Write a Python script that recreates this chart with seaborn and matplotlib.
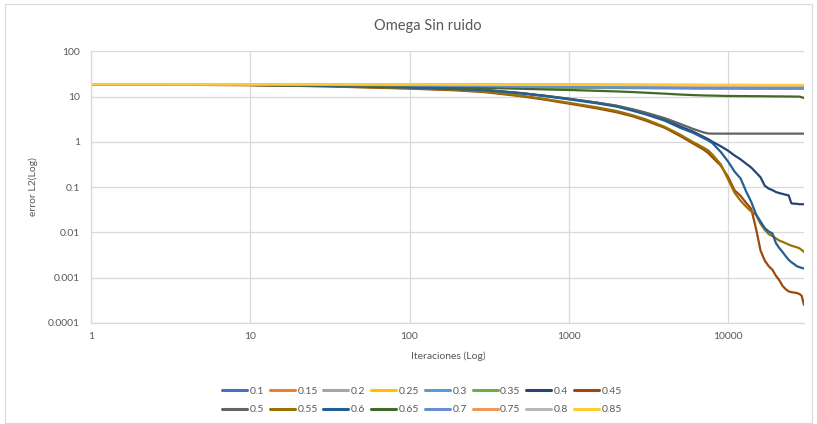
import matplotlib
matplotlib.use("Agg")
import matplotlib.pyplot as plt
import pandas as pd
import seaborn as sns
from matplotlib.patches import Rectangle
from matplotlib.ticker import NullLocator

# Iteration counts at which the L2 error was sampled
iterations = [1, 10, 30, 100, 200, 300, 500, 700, 1000, 1500, 2000, 2500, 3000,
              4000, 5000, 6000, 7000, 7500, 8000, 9000,
              10000, 11000, 12000, 13000, 14000, 15000, 16000, 17000, 18000, 19000,
              20000, 21000, 22000, 23000, 24000, 25000, 26000, 27000, 28000, 29000,
              30000]

omega_labels = ["0.1", "0.15", "0.2", "0.25", "0.3", "0.35", "0.4", "0.45",
                "0.5", "0.55", "0.6", "0.65", "0.7", "0.75", "0.8", "0.85"]

line_colors = ["#4472C4", "#ED7D31", "#A5A5A5", "#FFC000", "#5B9BD5", "#70AD47",
               "#264478", "#9E480E", "#636363", "#997300", "#255E91", "#43682B",
               "#698ED0", "#F1975A", "#B7B7B7", "#FFCD33"]

# L2 error per omega value
err_0_10 = [18.6, 18.5, 18.3, 18.0, 17.7, 17.5, 17.2, 17.0, 16.9, 16.7, 16.5, 16.3, 16.2,
            16.0, 15.9, 15.8, 15.7, 15.7, 15.6, 15.6,
            15.5, 15.5, 15.5, 15.4, 15.4, 15.4, 15.4, 15.4, 15.3, 15.3, 15.3,
            15.3, 15.3, 15.3, 15.3, 15.3, 15.3, 15.3, 15.3, 15.3, 15.3]
err_0_15 = [18.7, 18.6, 18.6, 18.5, 18.45, 18.4, 18.3, 18.25, 18.2, 18.15, 18.1, 18.05, 18.0,
            18.0, 17.9, 17.9, 17.9, 17.9, 17.8, 17.8,
            17.8, 17.8, 17.8, 17.8, 17.8, 17.8, 17.8, 17.7, 17.7, 17.7, 17.7,
            17.7, 17.7, 17.7, 17.7, 17.7, 17.7, 17.7, 17.7, 17.7, 17.7]
err_0_20 = [18.7, 18.6, 18.5, 18.4, 18.35, 18.3, 18.2, 18.15, 18.1, 18.05, 18.0, 17.95, 17.9,
            17.9, 17.8, 17.8, 17.8, 17.7, 17.7, 17.7,
            17.7, 17.7, 17.7, 17.6, 17.6, 17.6, 17.6, 17.6, 17.6, 17.6, 17.6,
            17.6, 17.6, 17.6, 17.6, 17.6, 17.6, 17.6, 17.6, 17.6, 17.6]
err_0_25 = [18.7, 18.7, 18.6, 18.6, 18.55, 18.5, 18.45, 18.4, 18.4, 18.35, 18.3, 18.3, 18.3,
            18.2, 18.2, 18.2, 18.1, 18.1, 18.1, 18.1,
            18.1, 18.1, 18.1, 18.1, 18.0, 18.0, 18.0, 18.0, 18.0, 18.0, 18.0,
            18.0, 18.0, 18.0, 18.0, 18.0, 18.0, 18.0, 18.0, 18.0, 18.0]
err_0_30 = [18.6, 18.4, 18.1, 17.6, 17.2, 17.0, 16.7, 16.5, 16.3, 16.1, 15.9, 15.8, 15.7,
            15.6, 15.5, 15.4, 15.4, 15.4, 15.3, 15.3,
            15.3, 15.3, 15.3, 15.2, 15.2, 15.2, 15.2, 15.2, 15.2, 15.2, 15.2,
            15.2, 15.2, 15.2, 15.2, 15.2, 15.2, 15.2, 15.2, 15.2, 15.2]
err_0_35 = [18.6, 18.4, 18.0, 17.2, 16.6, 16.2, 15.9, 15.7, 15.6, 15.5, 15.4, 15.35, 15.3,
            15.2, 15.2, 15.1, 15.1, 15.1, 15.1, 15.1,
            15.1, 15.1, 15.1, 15.1, 15.1, 15.1, 15.1, 15.1, 15.1, 15.1, 15.1,
            15.1, 15.1, 15.1, 15.1, 15.1, 15.1, 15.1, 15.1, 15.1, 15.1]
err_0_40 = [18.6, 18.1, 17.4, 16.0, 14.8, 14.0, 12.0, 10.5, 9.0, 7.3, 6.2, 5.1, 4.3,
            3.1, 2.2, 1.7, 1.3, 1.15, 1.0, 0.8,
            0.64, 0.50, 0.41, 0.33, 0.27, 0.21, 0.165, 0.108, 0.093, 0.086, 0.078,
            0.074, 0.071, 0.068, 0.066, 0.044, 0.043, 0.043, 0.042, 0.042, 0.042]
err_0_45 = [18.5, 17.9, 16.8, 15.0, 13.7, 12.5, 10.2, 8.6, 7.0, 5.5, 4.5, 3.7, 3.0,
            2.05, 1.35, 0.93, 0.68, 0.57, 0.45, 0.30,
            0.17, 0.085, 0.064, 0.045, 0.033, 0.012, 0.0040, 0.0024, 0.0018, 0.0015,
            0.0011, 0.00088, 0.00066, 0.00056, 0.00050, 0.00048, 0.00047, 0.00046,
            0.00044, 0.00040, 0.00025]
err_0_50 = [18.6, 18.1, 17.3, 15.8, 14.7, 13.9, 11.9, 10.4, 8.9, 7.4, 6.3, 5.3, 4.5,
            3.35, 2.5, 1.95, 1.62, 1.53, 1.52, 1.52,
            1.52, 1.52, 1.52, 1.52, 1.52, 1.52, 1.52, 1.52, 1.52, 1.52, 1.52,
            1.52, 1.52, 1.52, 1.52, 1.52, 1.52, 1.52, 1.52, 1.52, 1.52]
err_0_55 = [18.5, 18.0, 17.0, 15.3, 14.0, 12.8, 10.5, 8.9, 7.3, 5.8, 4.8, 3.9, 3.2,
            2.15, 1.45, 1.0, 0.75, 0.65, 0.52, 0.32,
            0.15, 0.075, 0.05, 0.037, 0.029, 0.0245, 0.0155, 0.0115, 0.0092, 0.0083,
            0.0074, 0.0066, 0.0062, 0.0058, 0.0054, 0.0051, 0.0049, 0.0047, 0.0045,
            0.0041, 0.0037]
err_0_60 = [18.6, 18.1, 17.3, 15.8, 14.6, 13.8, 11.8, 10.3, 8.7, 7.1, 6.0, 4.9, 4.1,
            2.95, 2.05, 1.6, 1.22, 1.08, 0.93, 0.6,
            0.37, 0.22, 0.155, 0.08, 0.047, 0.025, 0.0175, 0.0125, 0.0105, 0.0095,
            0.0058, 0.0045, 0.0037, 0.0030, 0.0025, 0.0022, 0.0020, 0.0018, 0.00172,
            0.00165, 0.0016]
err_0_65 = [18.6, 18.3, 17.9, 16.8, 15.9, 15.5, 14.9, 14.4, 14.0, 13.4, 13.0, 12.6, 12.2,
            11.6, 11.1, 10.8, 10.6, 10.55, 10.5, 10.4,
            10.3, 10.3, 10.25, 10.25, 10.2, 10.2, 10.2, 10.15, 10.15, 10.1, 10.1,
            10.1, 10.1, 10.05, 10.05, 10.05, 10.0, 10.0, 10.0, 9.7, 9.3]
err_0_70 = [18.6, 18.4, 18.1, 17.6, 17.2, 17.0, 16.6, 16.4, 16.2, 16.0, 15.8, 15.7, 15.6,
            15.5, 15.4, 15.3, 15.3, 15.3, 15.2, 15.2,
            15.2, 15.1, 15.1, 15.1, 15.1, 15.1, 15.1, 15.0, 15.0, 15.0, 15.0,
            15.0, 15.0, 15.0, 15.0, 15.0, 15.0, 15.0, 15.0, 15.0, 15.0]
err_0_75 = [18.7, 18.6, 18.6, 18.5, 18.45, 18.4, 18.3, 18.25, 18.2, 18.15, 18.1, 18.05, 18.0,
            18.0, 17.9, 17.9, 17.9, 17.9, 17.9, 17.8,
            17.8, 17.8, 17.8, 17.8, 17.8, 17.8, 17.8, 17.8, 17.8, 17.8, 17.8,
            17.8, 17.8, 17.8, 17.8, 17.8, 17.8, 17.8, 17.8, 17.8, 17.8]
err_0_80 = [18.7, 18.6, 18.5, 18.4, 18.3, 18.2, 18.1, 18.05, 18.0, 17.95, 17.9, 17.85, 17.8,
            17.7, 17.7, 17.6, 17.6, 17.6, 17.6, 17.6,
            17.5, 17.5, 17.5, 17.5, 17.5, 17.5, 17.5, 17.5, 17.5, 17.5, 17.5,
            17.5, 17.5, 17.5, 17.5, 17.5, 17.5, 17.5, 17.5, 17.5, 17.5]
err_0_85 = [18.7, 18.7, 18.7, 18.6, 18.55, 18.5, 18.45, 18.4, 18.4, 18.35, 18.3, 18.3, 18.3,
            18.2, 18.2, 18.2, 18.2, 18.1, 18.1, 18.1,
            18.1, 18.1, 18.1, 18.1, 18.1, 18.1, 18.0, 18.0, 18.0, 18.0, 18.0,
            18.0, 18.0, 18.0, 18.0, 18.0, 18.0, 18.0, 18.0, 18.0, 18.0]

x_ticks = [1, 10, 100, 1000, 10000]
x_tick_labels = ["1", "10", "100", "1000", "10000"]
y_ticks = [0.0001, 0.001, 0.01, 0.1, 1, 10, 100]
y_tick_labels = ["0.0001", "0.001", "0.01", "0.1", "1", "10", "100"]

series = [err_0_10, err_0_15, err_0_20, err_0_25, err_0_30, err_0_35, err_0_40,
          err_0_45, err_0_50, err_0_55, err_0_60, err_0_65, err_0_70, err_0_75,
          err_0_80, err_0_85]

frames = [pd.DataFrame({"iteracion": iterations, "error": vals, "omega": lab})
          for lab, vals in zip(omega_labels, series)]
df = pd.concat(frames, ignore_index=True)

sns.set_theme(style="white")
plt.rcParams["font.family"] = ["Lato", "DejaVu Sans"]
text_gray = "#595959"
grid_gray = "#D9D9D9"

W, H = 817, 424
fig = plt.figure(figsize=(W / 100, H / 100), dpi=100)
fig.patch.set_facecolor("white")
ax = fig.add_axes([91 / W, 1 - 323 / H, (804 - 91) / W, (323 - 51.3) / H])

sns.lineplot(data=df, x="iteracion", y="error", hue="omega", hue_order=omega_labels,
             palette=line_colors, estimator=None, sort=False, linewidth=1.6, ax=ax)

ax.set_xscale("log")
ax.set_yscale("log")
ax.set_xlim(1, 30000)
ax.set_ylim(1e-4, 100)
ax.set_xticks(x_ticks, x_tick_labels)
ax.set_yticks(y_ticks, y_tick_labels)
ax.xaxis.set_minor_locator(NullLocator())
ax.yaxis.set_minor_locator(NullLocator())
ax.set_xlabel("")
ax.set_ylabel("")
ax.grid(True, which="major", color=grid_gray, linewidth=0.9)
ax.set_axisbelow(True)
for side in ("top", "right"):
    ax.spines[side].set_visible(False)
for side in ("left", "bottom"):
    ax.spines[side].set_color(grid_gray)
    ax.spines[side].set_linewidth(0.9)
ax.tick_params(axis="both", length=0, labelsize=7.5, labelcolor=text_gray)
ax.tick_params(axis="y", pad=8)
ax.tick_params(axis="x", pad=6.5)

fig.text(428 / W, 1 - 26 / H, "Omega Sin ruido", ha="center", va="center",
         fontsize=10.5, color=text_gray)
fig.text(33 / W, 1 - 187 / H, "error L2(Log)", ha="center", va="center",
         rotation=90, fontsize=7.5, color=text_gray)
fig.text(448 / W, 1 - 356 / H, "Iteraciones (Log)", ha="center", va="center",
         fontsize=7.5, color=text_gray)

# Legend laid out row by row: 0.1 ... 0.45 on top, 0.5 ... 0.85 below
handles, labels = ax.get_legend_handles_labels()
if ax.get_legend() is not None:
    ax.get_legend().remove()
for h in handles:
    h.set_linewidth(2.2)
order = [i for pair in zip(range(8), range(8, 16)) for i in pair]
leg = fig.legend([handles[i] for i in order], [labels[i] for i in order], ncol=8,
                 loc="center", bbox_to_anchor=(422 / W, 1 - 400.5 / H), frameon=False,
                 fontsize=7.5, handlelength=2.4, handletextpad=0.25,
                 columnspacing=0.55, labelspacing=0.85)
for t in leg.get_texts():
    t.set_color(text_gray)

fig.patches.append(Rectangle((5 / W, 1 / H), (812 - 5) / W, (420 - 1) / H,
                             transform=fig.transFigure, fill=False,
                             edgecolor=grid_gray, linewidth=0.8))

fig.savefig("out.png", dpi=100)
